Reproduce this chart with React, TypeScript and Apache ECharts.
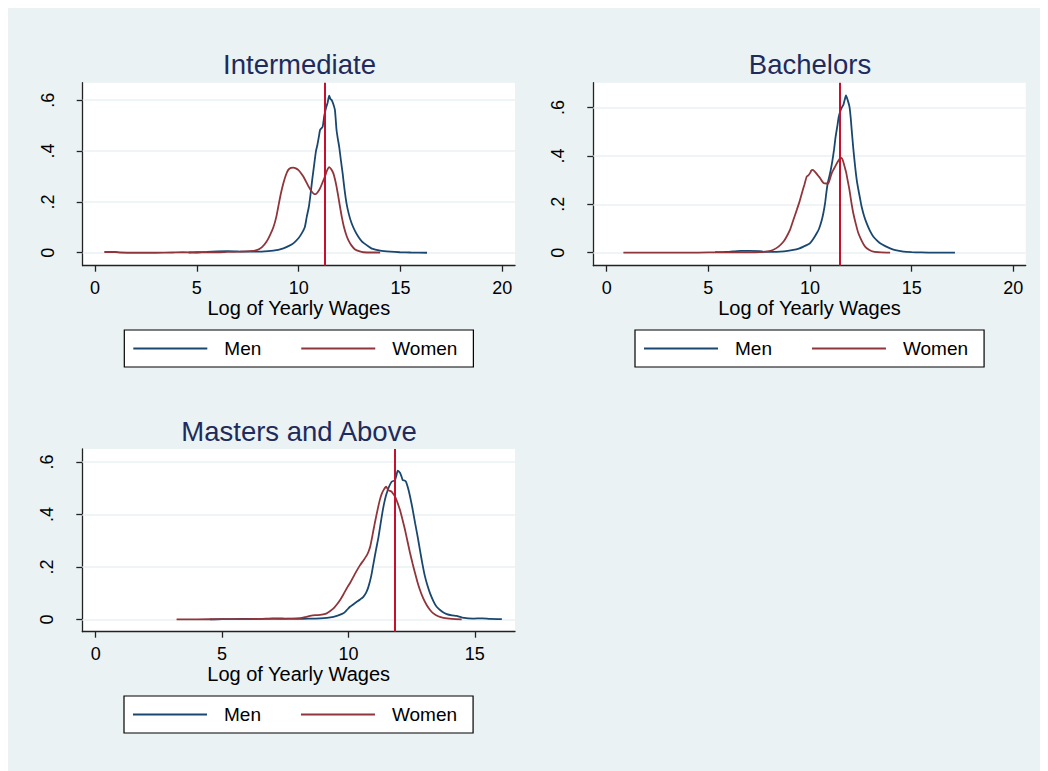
import React, { useEffect, useRef } from "react";
import * as echarts from "echarts";

// ---- data ----
const PANEL_TITLES = ["Intermediate", "Bachelors", "Masters and Above"];
const X_TICKS_WIDE = [0, 5, 10, 15, 20];
const X_TICKS_MASTERS = [0, 5, 10, 15];
const Y_TICKS = [0, 0.2, 0.4, 0.6];
const MEDIAN_LINES = [11.29, 11.46, 11.84];
const X_AXIS_TITLE = "Log of Yearly Wages";
const LEGEND_NAMES = ["Men", "Women"];

const interMen = [
  [4.6, 0.001], [5.0, 0.002], [5.5, 0.003], [6.0, 0.005], [6.5, 0.006], [7.0, 0.005], [7.5, 0.004],
  [8.0, 0.004], [8.5, 0.006], [8.76, 0.008], [9.0, 0.011], [9.25, 0.017], [9.5, 0.026], [9.74, 0.037],
  [10.0, 0.058], [10.15, 0.076], [10.3, 0.1], [10.4, 0.142], [10.5, 0.18], [10.59, 0.234], [10.67, 0.29],
  [10.75, 0.339], [10.85, 0.4], [10.92, 0.424], [11.0, 0.46], [11.05, 0.483], [11.12, 0.49], [11.18, 0.496],
  [11.26, 0.54], [11.34, 0.568], [11.42, 0.59], [11.5, 0.618], [11.56, 0.605], [11.62, 0.601], [11.7, 0.585],
  [11.78, 0.562], [11.86, 0.483], [11.92, 0.45], [11.99, 0.417], [12.08, 0.36], [12.16, 0.312], [12.25, 0.25],
  [12.35, 0.194], [12.47, 0.15], [12.6, 0.116], [12.77, 0.085], [12.93, 0.063], [13.1, 0.045], [13.34, 0.03],
  [13.6, 0.016], [14.0, 0.008], [14.5, 0.004], [14.97, 0.002], [15.5, 0.001], [16.3, 0.0],
];
const interWomen = [
  [0.46, 0.003], [1.0, 0.003], [1.25, 0.001], [2.0, 0.0], [3.0, 0.0], [3.8, 0.001], [4.3, 0.002], [5.0, 0.001],
  [5.5, 0.002], [6.0, 0.002], [6.5, 0.003], [7.12, 0.004], [7.6, 0.006], [7.94, 0.01], [8.2, 0.022], [8.43, 0.044],
  [8.6, 0.07], [8.76, 0.1], [8.9, 0.14], [9.0, 0.181], [9.12, 0.23], [9.25, 0.273], [9.37, 0.305], [9.49, 0.326],
  [9.62, 0.334], [9.74, 0.335], [9.86, 0.332], [9.98, 0.326], [10.1, 0.315], [10.23, 0.3], [10.35, 0.282],
  [10.47, 0.263], [10.58, 0.248], [10.69, 0.236], [10.77, 0.231], [10.85, 0.231], [10.95, 0.24], [11.05, 0.253],
  [11.17, 0.276], [11.29, 0.3], [11.4, 0.325], [11.5, 0.337], [11.6, 0.328], [11.7, 0.313], [11.78, 0.29],
  [11.86, 0.26], [11.95, 0.22], [12.03, 0.181], [12.12, 0.14], [12.22, 0.102], [12.33, 0.072], [12.44, 0.05],
  [12.6, 0.028], [12.77, 0.013], [13.0, 0.005], [13.18, 0.002], [13.6, 0.001], [14.0, 0.001],
];
const bachMen = [
  [5.33, 0.002], [5.8, 0.003], [6.2, 0.005], [6.6, 0.007], [7.0, 0.007], [7.5, 0.006], [7.8, 0.003], [8.2, 0.003],
  [8.53, 0.004], [8.9, 0.007], [9.18, 0.011], [9.45, 0.017], [9.68, 0.025], [10.0, 0.039], [10.15, 0.055],
  [10.33, 0.08], [10.45, 0.1], [10.58, 0.135], [10.66, 0.165], [10.74, 0.204], [10.8, 0.245], [10.87, 0.287],
  [10.95, 0.315], [11.02, 0.342], [11.1, 0.38], [11.18, 0.425], [11.26, 0.48], [11.34, 0.521], [11.41, 0.56],
  [11.48, 0.583], [11.56, 0.6], [11.64, 0.611], [11.7, 0.63], [11.77, 0.65], [11.85, 0.632], [11.94, 0.604],
  [12.0, 0.56], [12.05, 0.508], [12.13, 0.43], [12.22, 0.356], [12.3, 0.3], [12.38, 0.26], [12.46, 0.225],
  [12.54, 0.19], [12.66, 0.152], [12.79, 0.121], [12.95, 0.09], [13.12, 0.066], [13.3, 0.05], [13.45, 0.039],
  [13.7, 0.027], [13.94, 0.018], [14.2, 0.01], [14.6, 0.004], [15.0, 0.002], [15.41, 0.001], [16.0, 0.0], [17.13, 0.0],
];
const bachWomen = [
  [0.82, 0.0], [2.0, 0.0], [3.0, 0.0], [4.0, 0.0], [5.0, 0.001], [6.0, 0.001], [7.0, 0.001], [7.54, 0.002],
  [7.9, 0.005], [8.2, 0.012], [8.45, 0.025], [8.7, 0.046], [8.86, 0.068], [9.02, 0.095], [9.18, 0.135],
  [9.35, 0.177], [9.48, 0.21], [9.6, 0.246], [9.72, 0.28], [9.84, 0.315], [9.92, 0.32], [10.0, 0.329],
  [10.07, 0.34], [10.13, 0.342], [10.2, 0.338], [10.3, 0.329], [10.4, 0.318], [10.5, 0.308], [10.6, 0.295],
  [10.69, 0.287], [10.8, 0.286], [10.9, 0.287], [10.98, 0.305], [11.07, 0.329], [11.18, 0.347], [11.28, 0.363],
  [11.38, 0.378], [11.48, 0.39], [11.55, 0.392], [11.61, 0.383], [11.69, 0.36], [11.77, 0.335], [11.85, 0.3],
  [11.94, 0.26], [12.03, 0.21], [12.13, 0.163], [12.25, 0.12], [12.38, 0.08], [12.55, 0.048], [12.71, 0.025],
  [12.9, 0.012], [13.12, 0.004], [13.5, 0.001], [13.94, 0.0],
];
const mastMen = [
  [4.52, 0.0], [5.0, 0.001], [5.5, 0.001], [6.0, 0.002], [6.5, 0.002], [7.0, 0.004], [7.5, 0.003], [8.08, 0.002],
  [8.5, 0.003], [8.88, 0.004], [9.15, 0.006], [9.41, 0.01], [9.6, 0.015], [9.8, 0.023], [9.93, 0.035],
  [10.06, 0.048], [10.2, 0.058], [10.33, 0.067], [10.46, 0.076], [10.59, 0.086], [10.7, 0.102], [10.79, 0.124],
  [10.9, 0.165], [10.99, 0.213], [11.09, 0.265], [11.19, 0.315], [11.28, 0.37], [11.36, 0.417], [11.44, 0.455],
  [11.51, 0.48], [11.6, 0.505], [11.71, 0.525], [11.84, 0.531], [11.9, 0.55], [11.95, 0.567], [12.04, 0.559],
  [12.1, 0.545], [12.15, 0.531], [12.22, 0.53], [12.28, 0.525], [12.36, 0.5], [12.44, 0.468], [12.54, 0.42],
  [12.64, 0.366], [12.74, 0.315], [12.83, 0.264], [12.93, 0.21], [13.03, 0.163], [13.13, 0.128], [13.23, 0.099],
  [13.36, 0.07], [13.49, 0.048], [13.7, 0.03], [13.89, 0.02], [14.1, 0.015], [14.28, 0.013], [14.5, 0.007],
  [14.94, 0.003], [15.3, 0.004], [15.6, 0.002], [16.07, 0.001],
];
const mastWomen = [
  [3.2, 0.0], [4.0, 0.0], [5.0, 0.001], [6.0, 0.001], [6.5, 0.002], [7.0, 0.002], [7.5, 0.002], [8.08, 0.005],
  [8.3, 0.009], [8.48, 0.013], [8.7, 0.016], [8.88, 0.017], [9.0, 0.019], [9.14, 0.023], [9.28, 0.032],
  [9.41, 0.042], [9.54, 0.057], [9.67, 0.074], [9.8, 0.095], [9.93, 0.118], [10.07, 0.14], [10.2, 0.163],
  [10.33, 0.186], [10.46, 0.207], [10.6, 0.226], [10.73, 0.245], [10.8, 0.26], [10.86, 0.277], [10.93, 0.31],
  [10.99, 0.341], [11.07, 0.38], [11.15, 0.417], [11.24, 0.455], [11.32, 0.48], [11.4, 0.495], [11.49, 0.506],
  [11.58, 0.493], [11.71, 0.487], [11.8, 0.475], [11.88, 0.461], [11.96, 0.44], [12.04, 0.417], [12.14, 0.38],
  [12.24, 0.341], [12.34, 0.296], [12.44, 0.252], [12.54, 0.212], [12.64, 0.175], [12.73, 0.143], [12.83, 0.112],
  [12.96, 0.08], [13.1, 0.054], [13.23, 0.036], [13.36, 0.023], [13.55, 0.012], [13.76, 0.006], [14.1, 0.002],
  [14.48, 0.0],
];

const MEN_SERIES = [interMen, bachMen, mastMen];
const WOMEN_SERIES = [interWomen, bachWomen, mastWomen];
const X_TICK_SETS = [X_TICKS_WIDE, X_TICKS_WIDE, X_TICKS_MASTERS];

// ---- layout & style ----
const FONT = '"Liberation Sans", Arial, Helvetica, sans-serif';
const BG = "#eaf2f3";
const MEN_COLOR = "#1a476f";
const WOMEN_COLOR = "#90353b";
const RED = "#c8102e";
const TITLE_COLOR = "#1e2b5c";
const AXIS_COLOR = "#222";

const GRIDS = [
  { left: 74.7, top: 74.7, width: 432.3, height: 183 },
  { left: 585.3, top: 74.7, width: 432.4, height: 183 },
  { left: 74.3, top: 441, width: 432.7, height: 182.7 },
];
const X_RANGES = [[-0.6, 20.62], [-0.66, 20.61], [-0.53, 16.59]];
const Y_RANGES = [[-0.051, 0.669], [-0.054, 0.703], [-0.047, 0.65]];
const TITLE_POS = [[291.5, 56.5], [802, 56.5], [291, 423]];
const LEGEND_POS = [[116.3, 322], [627, 322], [116, 688]];

const yFmt = (v: number) => (v === 0 ? "0" : String(+v.toFixed(1)).replace(/^0\./, "."));

export default function App() {
  const ref = useRef<HTMLDivElement>(null);
  useEffect(() => {
    if (!ref.current) return;
    const chart = echarts.init(ref.current, null, { renderer: "svg" });

    const grid = GRIDS.map((g) => ({
      ...g,
      show: true,
      backgroundColor: "#ffffff",
      borderWidth: 0,
      containLabel: false,
    }));

    const xAxis = X_RANGES.map((r, i) => ({
      type: "value",
      gridIndex: i,
      min: r[0],
      max: r[1],
      name: X_AXIS_TITLE,
      nameLocation: "middle",
      nameGap: 32,
      nameTextStyle: { fontFamily: FONT, fontSize: 20, color: "#000" },
      axisLine: { show: true, onZero: false, lineStyle: { color: AXIS_COLOR, width: 1.3 } },
      axisTick: { show: true, length: 6, customValues: X_TICK_SETS[i], lineStyle: { color: AXIS_COLOR, width: 1.3 } },
      axisLabel: {
        show: true,
        customValues: X_TICK_SETS[i],
        margin: 13,
        fontFamily: FONT,
        fontSize: 18,
        color: "#000",
        formatter: (v: number) => String(v),
      },
      splitLine: { show: false },
    }));

    const yAxis = Y_RANGES.map((r, i) => ({
      type: "value",
      gridIndex: i,
      min: r[0],
      max: r[1],
      axisLine: { show: true, onZero: false, lineStyle: { color: AXIS_COLOR, width: 1.3 } },
      axisTick: { show: true, length: 6, customValues: Y_TICKS, lineStyle: { color: AXIS_COLOR, width: 1.3 } },
      axisLabel: {
        show: true,
        customValues: Y_TICKS,
        rotate: 90,
        margin: 26,
        fontFamily: FONT,
        fontSize: 18,
        color: "#000",
        formatter: yFmt,
      },
      splitLine: { show: false },
    }));

    const series: any[] = [];
    for (let i = 0; i < 3; i++) {
      series.push({
        type: "line",
        xAxisIndex: i,
        yAxisIndex: i,
        data: [],
        z: 1,
        silent: true,
        markLine: {
          z: 1,
          silent: true,
          symbol: ["none", "none"],
          label: { show: false },
          lineStyle: { color: BG, width: 1.6, type: "solid" },
          data: Y_TICKS.map((v) => ({ yAxis: v })),
        },
      });
      series.push({
        type: "line",
        name: "Men",
        xAxisIndex: i,
        yAxisIndex: i,
        data: MEN_SERIES[i],
        showSymbol: false,
        symbol: "none",
        smooth: 0.2,
        z: 2,
        color: MEN_COLOR,
        lineStyle: { color: MEN_COLOR, width: 1.8 },
      });
      series.push({
        type: "line",
        name: "Women",
        xAxisIndex: i,
        yAxisIndex: i,
        data: WOMEN_SERIES[i],
        showSymbol: false,
        symbol: "none",
        smooth: 0.2,
        z: 2,
        color: WOMEN_COLOR,
        lineStyle: { color: WOMEN_COLOR, width: 1.8 },
      });
      series.push({
        type: "line",
        xAxisIndex: i,
        yAxisIndex: i,
        data: [],
        z: 3,
        silent: true,
        markLine: {
          z: 5,
          silent: true,
          symbol: ["none", "none"],
          label: { show: false },
          lineStyle: { color: RED, width: 2, type: "solid" },
          data: [{ xAxis: MEDIAN_LINES[i] }],
        },
      });
    }

    const legend = LEGEND_POS.map((p) => ({
      data: LEGEND_NAMES,
      left: p[0],
      top: p[1],
      orient: "horizontal",
      selectedMode: false,
      icon: "rect",
      itemWidth: 74,
      itemHeight: 2,
      itemGap: 40,
      padding: [8, 16, 8, 9],
      borderColor: "#000",
      borderWidth: 1.2,
      borderRadius: 0,
      backgroundColor: "#ffffff",
      textStyle: { fontFamily: FONT, fontSize: 19, color: "#000", padding: [0, 0, 0, 12], lineHeight: 21 },
    }));

    const graphic = PANEL_TITLES.map((t, i) => ({
      type: "text",
      x: TITLE_POS[i][0],
      y: TITLE_POS[i][1],
      silent: true,
      style: {
        text: t,
        fontFamily: FONT,
        fontSize: 27.5,
        fill: TITLE_COLOR,
        align: "center",
        verticalAlign: "middle",
      },
    }));

    chart.setOption({
      animation: false,
      backgroundColor: BG,
      grid,
      xAxis,
      yAxis,
      series,
      legend,
      graphic,
      tooltip: { show: false },
    });
    return () => chart.dispose();
  }, []);
  return <div ref={ref} style={{ width: 1040, height: 763 }} />;
}
